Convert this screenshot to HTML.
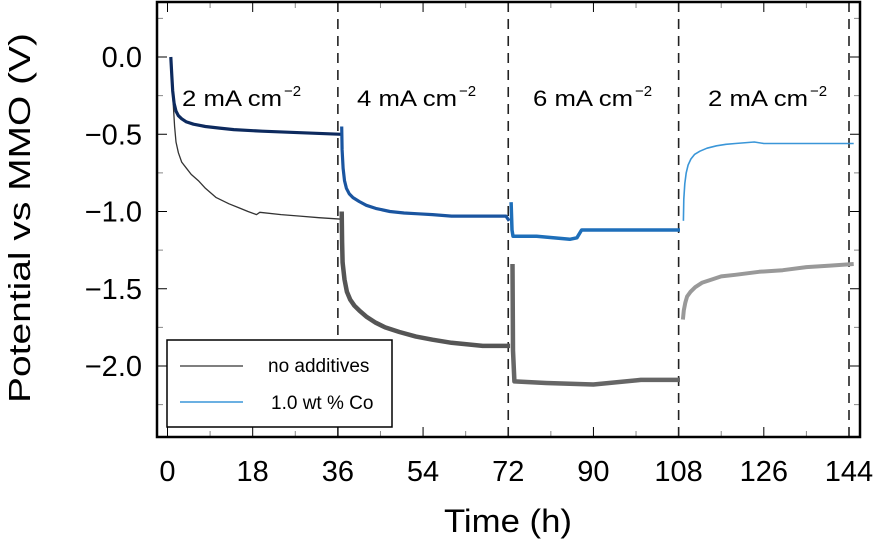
<!DOCTYPE html>
<html><head><meta charset="utf-8"><style>
html,body{margin:0;padding:0;background:#fff;}
svg{display:block;font-family:"Liberation Sans",Arial,sans-serif;}
</style></head><body>
<svg id="chart" width="877" height="544" viewBox="0 0 877 544" xmlns="http://www.w3.org/2000/svg">
<g id="grid-ticks"></g>
<g id="dashes"></g>
<g id="series"></g>
<rect x="157" y="2" width="703" height="435" fill="none" stroke="#000" stroke-width="2.5"/>
<g font-size="22" fill="#000">
<text x="182" y="106" textLength="100" lengthAdjust="spacingAndGlyphs">2 mA cm</text><text x="284" y="96" font-size="15">−2</text>
<text x="357" y="106" textLength="100" lengthAdjust="spacingAndGlyphs">4 mA cm</text><text x="459" y="96" font-size="15">−2</text>
<text x="533" y="106" textLength="100" lengthAdjust="spacingAndGlyphs">6 mA cm</text><text x="635" y="96" font-size="15">−2</text>
<text x="708" y="106" textLength="100" lengthAdjust="spacingAndGlyphs">2 mA cm</text><text x="810" y="96" font-size="15">−2</text>
</g>
<g>
<rect x="167" y="340" width="225" height="87" fill="#fff" stroke="#000" stroke-width="1.5"/>
<line x1="180" y1="366" x2="243" y2="366" stroke="#555" stroke-width="1.5"/>
<text x="268" y="372" font-size="19">no additives</text>
<line x1="180" y1="402" x2="243" y2="402" stroke="#3a96d8" stroke-width="1.5"/>
<text x="271" y="409" font-size="19">1.0 wt % Co</text>
</g>
<g id="xlabels" font-size="29" text-anchor="middle"></g>
<g id="ylabels" font-size="29" text-anchor="end"></g>
<text x="508" y="532" font-size="32" text-anchor="middle" textLength="128" lengthAdjust="spacingAndGlyphs">Time (h)</text>
<text transform="translate(30,218) rotate(-90)" font-size="31" text-anchor="middle" textLength="370" lengthAdjust="spacingAndGlyphs">Potential vs  MMO (V)</text>
</svg>
<script>
const xTicks=[0,18,36,54,72,90,108,126,144];
const yTicks=[0.0,-0.5,-1.0,-1.5,-2.0];
const yTickLabels=["0.0","−0.5","−1.0","−1.5","−2.0"];
const dividers=[36,72,108,144];
// no additives series (time h, potential V)
const noAddT1=[0.8,1.0,1.2,1.5,1.8,2.3,3,4,5,6.5,8,10.3,13,15,17,18.8,19.5,24,28,32,36.8];
const noAddV1=[0,-0.15,-0.3,-0.45,-0.55,-0.62,-0.68,-0.72,-0.76,-0.8,-0.85,-0.91,-0.95,-0.975,-1.0,-1.02,-1.005,-1.02,-1.03,-1.04,-1.05];
const noAddT2=[36.8,36.9,37,37.4,37.9,38.6,39.5,40.5,42,44,46,49,52.5,56,60,66.6,72.4];
const noAddV2=[-1.0,-1.2,-1.33,-1.44,-1.52,-1.57,-1.61,-1.64,-1.68,-1.72,-1.75,-1.78,-1.81,-1.83,-1.85,-1.87,-1.87];
const noAddT3=[72.9,73,73.3,80,90,100,108.3];
const noAddV3=[-1.34,-1.9,-2.1,-2.11,-2.12,-2.09,-2.09];
const noAddT4=[108.9,109.1,109.4,109.8,110.5,111.5,113,115,117,120,125,130,135,140,145];
const noAddV4=[-1.7,-1.64,-1.59,-1.55,-1.52,-1.49,-1.46,-1.44,-1.42,-1.41,-1.39,-1.38,-1.36,-1.35,-1.34];
// 1.0 wt% Co series
const coT1=[0.7,0.9,1.1,1.4,1.8,2.3,3,4,5.5,8,11,14,20,28,36.8];
const coV1=[0,-0.12,-0.22,-0.3,-0.35,-0.38,-0.4,-0.42,-0.435,-0.45,-0.46,-0.47,-0.48,-0.49,-0.5];
const coT2=[36.8,36.9,37.1,37.4,37.8,38.4,39.2,40.5,42,44,47,50,53,56,60,66,71.5,72.2];
const coV2=[-0.45,-0.6,-0.72,-0.8,-0.85,-0.885,-0.91,-0.935,-0.96,-0.98,-1.0,-1.01,-1.015,-1.02,-1.03,-1.03,-1.03,-1.06];
const coT3=[72.6,72.8,73,78,85,86.5,87.5,95,108.3];
const coV3=[-0.94,-1.12,-1.16,-1.16,-1.18,-1.17,-1.12,-1.12,-1.12];
const coT4=[109,109.1,109.3,109.6,110,110.6,111.4,112.5,114,116,118,120,124,126,130,140,145];
const coV4=[-1.06,-0.92,-0.82,-0.75,-0.7,-0.66,-0.63,-0.61,-0.59,-0.575,-0.565,-0.56,-0.55,-0.56,-0.56,-0.56,-0.56];

const X=t=>167.5+t*(849-167.5)/144;
const Y=v=>57-v*154.5;
const NS="http://www.w3.org/2000/svg";
const mk=(tag,parent)=>{const e=document.createElementNS(NS,tag);document.getElementById(parent).appendChild(e);return e;};

xTicks.forEach((t,i)=>{
  const tx=mk('text','xlabels');
  
  
  tx.setAttribute('x',X(t));tx.setAttribute('y',481);tx.textContent=t;
});
for(let t=0;t<=144;t+=9){
  const big=t%18===0;
  [[437,437-(big?10:6)],[2,2+(big?10:6)]].forEach(([a,b])=>{
    const l=mk('line','grid-ticks');
    
    
    l.setAttribute('x1',X(t));l.setAttribute('x2',X(t));l.setAttribute('y1',a);l.setAttribute('y2',b);
    l.setAttribute('stroke',big?'#000':'#888');l.setAttribute('stroke-width',1);
  });
}
for(let v=0.25;v>=-2.26;v-=0.25){
  const big=Math.abs(v*2-Math.round(v*2))<1e-6;
  [[157,157+(big?10:6)],[860,860-(big?10:6)]].forEach(([a,b])=>{
    const l=mk('line','grid-ticks');
    
    
    l.setAttribute('x1',a);l.setAttribute('x2',b);l.setAttribute('y1',Y(v));l.setAttribute('y2',Y(v));
    l.setAttribute('stroke',big?'#000':'#888');l.setAttribute('stroke-width',1);
  });
}
yTicks.forEach((v,i)=>{
  const tx=mk('text','ylabels');
  
  
  tx.setAttribute('x',142);tx.setAttribute('y',Y(v)+10);tx.textContent=yTickLabels[i];
});
dividers.forEach(t=>{
  const l=mk('line','dashes');
  
  
  l.setAttribute('x1',X(t));l.setAttribute('x2',X(t));l.setAttribute('y1',2);l.setAttribute('y2',437);
  l.setAttribute('stroke','#222');l.setAttribute('stroke-width',1.6);l.setAttribute('stroke-dasharray','10,7');
});
function series(ts,vs,color,w,name){
  const p=mk('polyline','series');
  
  
  p.setAttribute('points',ts.map((t,i)=>X(t).toFixed(1)+','+Y(vs[i]).toFixed(1)).join(' '));
  p.setAttribute('fill','none');p.setAttribute('stroke',color);p.setAttribute('stroke-width',w);
  p.setAttribute('stroke-linejoin','round');
}
series(noAddT1,noAddV1,'#333',1.3,'no-additives-seg1');
series(noAddT2,noAddV2,'#555',4.5,'no-additives-seg2');
series(noAddT3,noAddV3,'#666',4.5,'no-additives-seg3');
series(noAddT4,noAddV4,'#999',4,'no-additives-seg4');
series(coT1,coV1,'#0d2a5e',3.2,'co-seg1');
series(coT2,coV2,'#1a55a0',3.2,'co-seg2');
series(coT3,coV3,'#1e6fba',3.5,'co-seg3');
series(coT4,coV4,'#3a96d8',1.6,'co-seg4');
</script>
</body></html>
